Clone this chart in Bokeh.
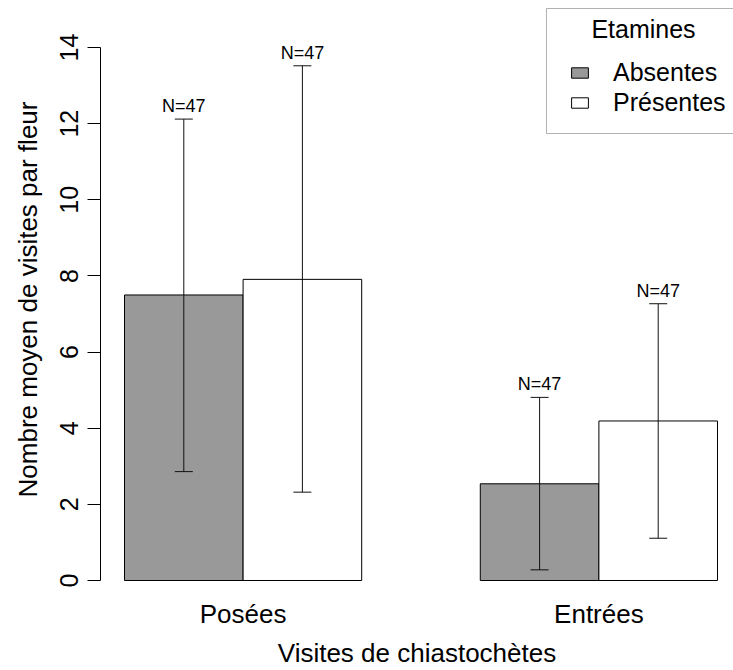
from bokeh.plotting import figure
from bokeh.models import (ColumnDataSource, Range1d, FixedTicker, Whisker, TeeHead,
                          Legend, LegendItem, BoxAnnotation, Label)
from bokeh.core.properties import value
from bokeh.embed import file_html
from bokeh.resources import INLINE

# ---- data ----
groups = ["Posées", "Entrées"]
series = ["Absentes", "Présentes"]
means_absentes = [7.50, 2.54]
means_presentes = [7.91, 4.19]
low_absentes = [2.86, 0.28]
high_absentes = [12.12, 4.81]
low_presentes = [2.32, 1.11]
high_presentes = [13.52, 7.27]
n_absentes = ["N=47", "N=47"]
n_presentes = ["N=47", "N=47"]
y_ticks = [0, 2, 4, 6, 8, 10, 12, 14]
legend_title = "Etamines"

FONT = "Liberation Sans"
fills = {"Absentes": "#999999", "Présentes": "#ffffff"}

# R barplot layout: bar width 1, space=c(0,1) -> group g occupies [1+3g, 3+3g]
def bar_x(g, s):
    return 1.5 + 3 * g + s

def group_center(g):
    return 2 + 3 * g

p = figure(width=733, height=670, output_backend="svg", toolbar_location=None,
           x_range=Range1d(0.7976, 6.135), y_range=Range1d(-0.473, 15.235),
           min_border_left=100, min_border_right=0, min_border_top=0,
           min_border_bottom=72)
p.outline_line_color = None
p.grid.visible = False
p.background_fill_color = "white"

renderers = {}
for s, (name, means, lo, hi, ns) in enumerate([
        ("Absentes", means_absentes, low_absentes, high_absentes, n_absentes),
        ("Présentes", means_presentes, low_presentes, high_presentes, n_presentes)]):
    src = ColumnDataSource(dict(
        x=[bar_x(g, s) for g in range(len(groups))],
        top=means, lo=lo, hi=hi, n=ns))
    r = p.vbar(x="x", top="top", bottom=0, width=1.0, source=src,
               fill_color=fills[name], line_color="black", line_width=1)
    renderers[name] = r
    w = Whisker(source=src, base="x", upper="hi", lower="lo",
                line_color="#111111", line_width=1, level="overlay",
                upper_head=TeeHead(size=18, line_color="#111111", line_width=1),
                lower_head=TeeHead(size=18, line_color="#111111", line_width=1))
    p.add_layout(w)
    p.text(x="x", y="hi", text="n", source=src, text_align="center",
           text_baseline="bottom", y_offset=-3, text_font=value(FONT),
           text_font_size="18px", text_color="black")

# y axis
ya = p.yaxis[0]
ya.ticker = FixedTicker(ticks=y_ticks)
ya.bounds = (min(y_ticks), max(y_ticks))
ya.major_tick_out = 13
ya.major_tick_in = 0
ya.minor_tick_line_color = None
ya.major_label_orientation = "vertical"
ya.major_label_standoff = 9
ya.major_label_text_font = FONT
ya.major_label_text_font_size = "25px"
ya.major_label_text_color = "black"
ya.axis_line_color = "black"
ya.major_tick_line_color = "black"
ya.axis_label = "Nombre moyen de visites par fleur"
ya.axis_label_text_font = FONT
ya.axis_label_text_font_size = "26px"
ya.axis_label_text_font_style = "normal"
ya.axis_label_text_color = "black"
ya.axis_label_standoff = 15

# x axis
xa = p.xaxis[0]
xa.ticker = FixedTicker(ticks=[group_center(g) for g in range(len(groups))])
xa.major_label_overrides = {group_center(g): groups[g] for g in range(len(groups))}
xa.axis_line_color = None
xa.major_tick_line_color = None
xa.minor_tick_line_color = None
xa.major_tick_out = 0
xa.major_tick_in = 0
xa.major_label_standoff = 0
xa.major_label_text_font = FONT
xa.major_label_text_font_size = "26px"
xa.major_label_text_color = "black"
xa.axis_label = "Visites de chiastochètes"
xa.axis_label_text_font = FONT
xa.axis_label_text_font_size = "26px"
xa.axis_label_text_font_style = "normal"
xa.axis_label_text_color = "black"
xa.axis_label_standoff = 6

# legend: frame box + centred title + items (screen units relative to the frame)
box = BoxAnnotation(left=446, right=700, top=590, bottom=465,
                    left_units="screen", right_units="screen",
                    top_units="screen", bottom_units="screen",
                    fill_color="white", fill_alpha=1.0,
                    line_color="black", line_width=1, level="overlay")
p.add_layout(box)
p.add_layout(Label(x=543, y=570, x_units="screen", y_units="screen",
                   text=legend_title, text_align="center",
                   text_baseline="alphabetic", text_font=FONT,
                   text_font_size="25px", text_color="black", level="overlay"))
legend = Legend(items=[LegendItem(label=n, renderers=[renderers[n]]) for n in series],
                location=(469, 481),
                label_text_font=FONT, label_text_font_size="25px",
                label_text_color="black", label_standoff=23,
                glyph_width=21, glyph_height=13, label_height=30, spacing=0,
                padding=0, margin=0, border_line_color=None,
                background_fill_alpha=0.0)
p.add_layout(legend)

open("out.html", "w").write(file_html(p, INLINE))
